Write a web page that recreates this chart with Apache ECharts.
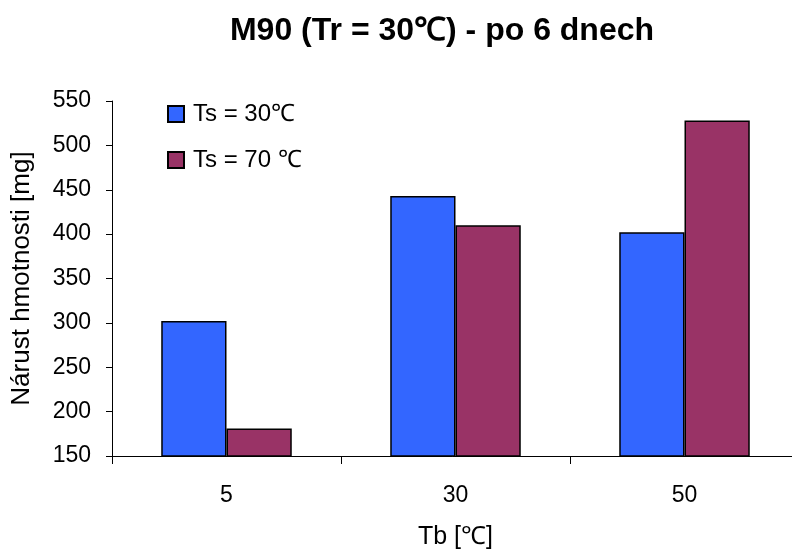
<!DOCTYPE html>
<html>
<head>
<meta charset="utf-8">
<script src="https://cdn.jsdelivr.net/npm/echarts@6/dist/echarts.min.js"></script>
<style>html,body{margin:0;padding:0;background:#fff}#c{width:792px;height:551px}</style>
</head>
<body>
<div id="c"></div>
<script>
const categories = ['5', '30', '50'];
const seriesNames = ['Ts = 30℃', 'Ts = 70 ℃'];
const ts30 = [302, 443, 402];
const ts70 = [181, 410, 528];
const yTicks = {min: 150, max: 550, interval: 50};

const chart = echarts.init(document.getElementById('c'), null, {renderer: 'canvas'});
const FONT = 'Liberation Sans, Arial, sans-serif';
chart.setOption({
  animation: false,
  backgroundColor: '#fff',
  title: {
    text: 'M90 (Tr = 30℃) - po 6 dnech',
    left: 437, top: 10, textAlign: 'center',
    textStyle: {fontFamily: FONT, fontSize: 32, fontWeight: 'bold', color: '#000'}
  },
  legend: {
    orient: 'vertical', left: 162, top: 97,
    itemWidth: 16, itemHeight: 16, itemGap: 22,
    icon: 'rect',
    textStyle: {fontFamily: FONT, fontSize: 24, color: '#000', padding: [0, 0, 0, 4]},
    data: seriesNames
  },
  grid: {left: 112, width: 687, top: 101, height: 355, containLabel: false, outerBoundsMode: 'none'},
  xAxis: {
    type: 'category', data: categories,
    name: 'Tb [℃]', nameLocation: 'middle', nameGap: 69,
    nameTextStyle: {fontFamily: FONT, fontSize: 25, color: '#000'},
    axisLine: {lineStyle: {color: '#000', width: 1}},
    axisTick: {show: true, length: 8, lineStyle: {color: '#000'}},
    axisLabel: {fontFamily: FONT, fontSize: 23, color: '#000', margin: 28}
  },
  yAxis: {
    type: 'value', min: yTicks.min, max: yTicks.max, interval: yTicks.interval,
    name: 'Nárust hmotnosti [mg]', nameLocation: 'middle', nameGap: 77,
    nameTextStyle: {fontFamily: FONT, fontSize: 26, color: '#000'},
    axisLine: {show: true, lineStyle: {color: '#000', width: 1}},
    axisTick: {show: true, length: 6, lineStyle: {color: '#000'}},
    axisLabel: {fontFamily: FONT, fontSize: 23, color: '#000', margin: 21},
    splitLine: {show: false}
  },
  series: [
    {name: seriesNames[0], type: 'bar', data: ts30, barGap: '0%', barCategoryGap: '43%',
     itemStyle: {color: '#3366FF', borderColor: '#000', borderWidth: 1.5}},
    {name: seriesNames[1], type: 'bar', data: ts70, barGap: '0%', barCategoryGap: '43%',
     itemStyle: {color: '#993366', borderColor: '#000', borderWidth: 1.5}}
  ]
});
</script>
</body>
</html>
